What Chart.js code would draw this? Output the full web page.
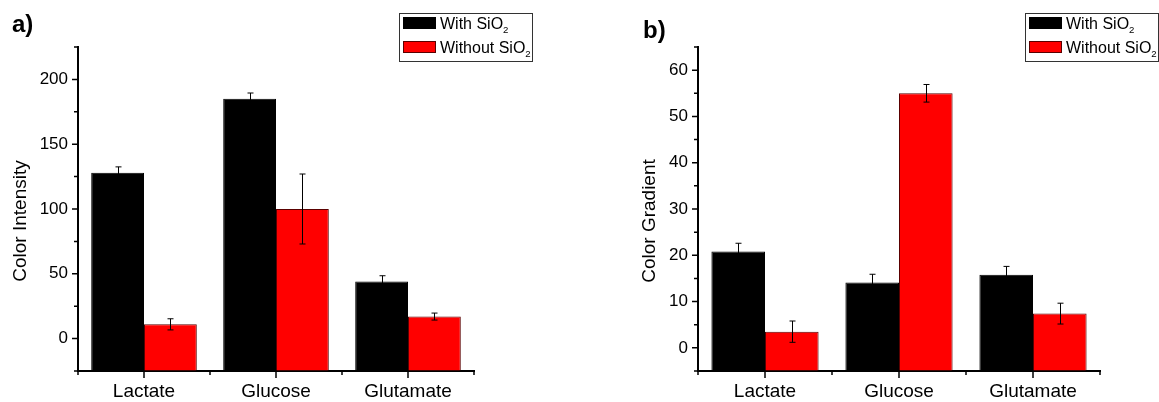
<!DOCTYPE html>
<html>
<head>
<meta charset="utf-8">
<script src="https://cdn.jsdelivr.net/npm/chart.js@4.4.1/dist/chart.umd.min.js"></script>
<style>
  html, body { margin: 0; padding: 0; background: #fff; }
  #wrap { position: relative; width: 1159px; height: 402px; }
  .panel { position: absolute; top: 0; height: 402px; }
</style>
</head>
<body>
<div id="wrap">
  <div class="panel" style="left:0;width:580px"><canvas id="chartA" width="580" height="402"></canvas></div>
  <div class="panel" style="left:580px;width:579px"><canvas id="chartB" width="579" height="402"></canvas></div>
</div>
<script>
// data
const categories = ['Lactate', 'Glucose', 'Glutamate'];
const seriesNames = ['With SiO₂', 'Without SiO₂'];

const intensityWith = [128, 185, 44];
const intensityWithErr = [4.5, 4.5, 4.5];
const intensityWithout = [11, 100, 17];
const intensityWithoutErr = [4.3, 27, 2.7];

const gradientWith = [20.8, 14.1, 15.8];
const gradientWithErr = [1.8, 1.8, 1.8];
const gradientWithout = [3.5, 55, 7.4];
const gradientWithoutErr = [2.3, 1.9, 2.25];

const FONT = "'Liberation Sans', Arial, sans-serif";

// bars start from the bottom of the axis like in Origin
function makeDatasets(a, aErr, b, bErr, base) {
  return [
    { label: seriesNames[0], data: a, errors: aErr, base: base, backgroundColor: '#000000', borderColor: '#000000', borderWidth: 1 },
    { label: seriesNames[1], data: b, errors: bErr, base: base, backgroundColor: '#ff0000', borderColor: '#5a0000', borderWidth: 1 }
  ];
}

const errorBars = {
  id: 'errorBars',
  afterDatasetsDraw(chart) {
    const ctx = chart.ctx, y = chart.scales.y;
    ctx.save();
    ctx.strokeStyle = '#000';
    ctx.lineWidth = 1;
    chart.data.datasets.forEach((ds, di) => {
      const meta = chart.getDatasetMeta(di);
      meta.data.forEach((bar, i) => {
        const v = ds.data[i], e = ds.errors[i];
        const x = Math.round(bar.x) + 0.5;
        const top = y.getPixelForValue(v + e), bot = y.getPixelForValue(v - e);
        ctx.beginPath();
        ctx.moveTo(x, top); ctx.lineTo(x, bot);
        ctx.moveTo(x - 3, top); ctx.lineTo(x + 3, top);
        ctx.moveTo(x - 3, bot); ctx.lineTo(x + 3, bot);
        ctx.stroke();
      });
    });
    ctx.restore();
  }
};

// Origin-style ticks: outward, major/minor
const axisTicks = {
  id: 'axisTicks',
  afterDraw(chart) {
    const ctx = chart.ctx, x = chart.scales.x, y = chart.scales.y;
    const area = chart.chartArea;
    ctx.save();
    ctx.strokeStyle = '#000';
    ctx.lineWidth = 1.5;
    ctx.beginPath();
    y.ticks.forEach((t, i) => {
      const py = y.getPixelForTick(i);
      const len = t.label ? 6 : 4;
      ctx.moveTo(area.left - len, py); ctx.lineTo(area.left, py);
    });
    const centers = categories.map((c, i) => x.getPixelForTick(i));
    centers.forEach(px => { ctx.moveTo(px, area.bottom); ctx.lineTo(px, area.bottom + 7); });
    const step = centers.length > 1 ? centers[1] - centers[0] : 0;
    for (let i = 0; i <= centers.length; i++) {
      const px = centers[0] - step / 2 + i * step;
      ctx.moveTo(px, area.bottom); ctx.lineTo(px, area.bottom + 4);
    }
    ctx.stroke();
    ctx.restore();
  }
};

function drawSubText(ctx, text, x, y, size) {
  const subs = { '₀': '0', '₁': '1', '₂': '2', '₃': '3' };
  let cx = x;
  for (const ch of text) {
    if (subs[ch]) {
      ctx.font = (size * 0.6) + 'px ' + FONT;
      ctx.fillText(subs[ch], cx, y + 4);
      cx += ctx.measureText(subs[ch]).width;
    } else {
      ctx.font = size + 'px ' + FONT;
      ctx.fillText(ch, cx, y);
      cx += ctx.measureText(ch).width;
    }
  }
}

const boxLegend = {
  id: 'boxLegend',
  afterDraw(chart, args, opts) {
    const ctx = chart.ctx, area = chart.chartArea;
    const left = area.right - 75, top = 13, w = 133, h = 48;
    ctx.save();
    ctx.strokeStyle = '#333';
    ctx.lineWidth = 1;
    ctx.strokeRect(Math.round(left) + 0.5, top + 0.5, w, h);
    ctx.textBaseline = 'alphabetic';
    chart.data.datasets.forEach((ds, i) => {
      const sy = top + 4 + i * 24;
      ctx.fillStyle = ds.backgroundColor;
      ctx.fillRect(left + 4, sy, 33, 12);
      ctx.strokeStyle = ds.borderColor;
      ctx.strokeRect(left + 4.5, sy + 0.5, 32, 11);
      ctx.fillStyle = '#000';
      drawSubText(ctx, ds.label, left + 41, sy + 12, 16);
    });
    // panel letter
    ctx.font = 'bold 24px ' + FONT;
    ctx.fillText(opts.letter, opts.lx, opts.ly);
    // y title, a bit below the middle of the axis as in the source
    ctx.save();
    ctx.translate(opts.tx, (area.top + area.bottom) / 2 + 12);
    ctx.rotate(-Math.PI / 2);
    ctx.font = '19px ' + FONT;
    ctx.textAlign = 'center';
    ctx.textBaseline = 'middle';
    ctx.fillText(opts.yTitle, 0, 0);
    ctx.restore();
    ctx.restore();
  }
};

function makeChart(id, a, aErr, b, bErr, yTitle, yMin, yMax, step, labelStep, cfg) {
  return new Chart(document.getElementById(id), {
    type: 'bar',
    data: { labels: categories, datasets: makeDatasets(a, aErr, b, bErr, yMin) },
    plugins: [errorBars, axisTicks, boxLegend],
    options: {
      responsive: false,
      animation: false,
      events: [],
      layout: { padding: { left: 0, right: cfg.padRight, top: 47, bottom: 0 } },
      datasets: { bar: { categoryPercentage: 0.8, barPercentage: 1.0 } },
      plugins: {
        legend: { display: false },
        tooltip: { enabled: false },
        boxLegend: { letter: cfg.letter, lx: cfg.lx, ly: cfg.ly, tx: cfg.tx, yTitle: yTitle }
      },
      scales: {
        x: {
          grid: { display: true, drawOnChartArea: false, drawTicks: false },
          border: { display: true, color: '#000', width: 2 },
          ticks: { color: '#000', padding: 9, font: { family: FONT, size: 19 }, maxRotation: 0 },
          afterFit: s => { s.height = 31; }
        },
        y: {
          min: yMin, max: yMax,
          grid: { display: true, drawOnChartArea: false, drawTicks: false },
          border: { display: true, color: '#000', width: 2 },
          ticks: {
            stepSize: step, color: '#000', padding: 10, autoSkip: false,
            font: { family: FONT, size: 17 },
            callback: v => (Math.abs(v % labelStep) < 1e-9 ? String(v) : '')
          },
          afterFit: s => { s.width = cfg.yWidth; }
        }
      }
    }
  });
}

makeChart('chartA', intensityWith, intensityWithErr, intensityWithout, intensityWithoutErr,
  'Color Intensity', -25, 225, 25, 50,
  { padRight: 106, yWidth: 78, letter: 'a)', lx: 12, ly: 32, tx: 21 });

makeChart('chartB', gradientWith, gradientWithErr, gradientWithout, gradientWithoutErr,
  'Color Gradient', -5, 65, 5, 10,
  { padRight: 59, yWidth: 118, letter: 'b)', lx: 63, ly: 38, tx: 70 });
</script>
</body>
</html>
